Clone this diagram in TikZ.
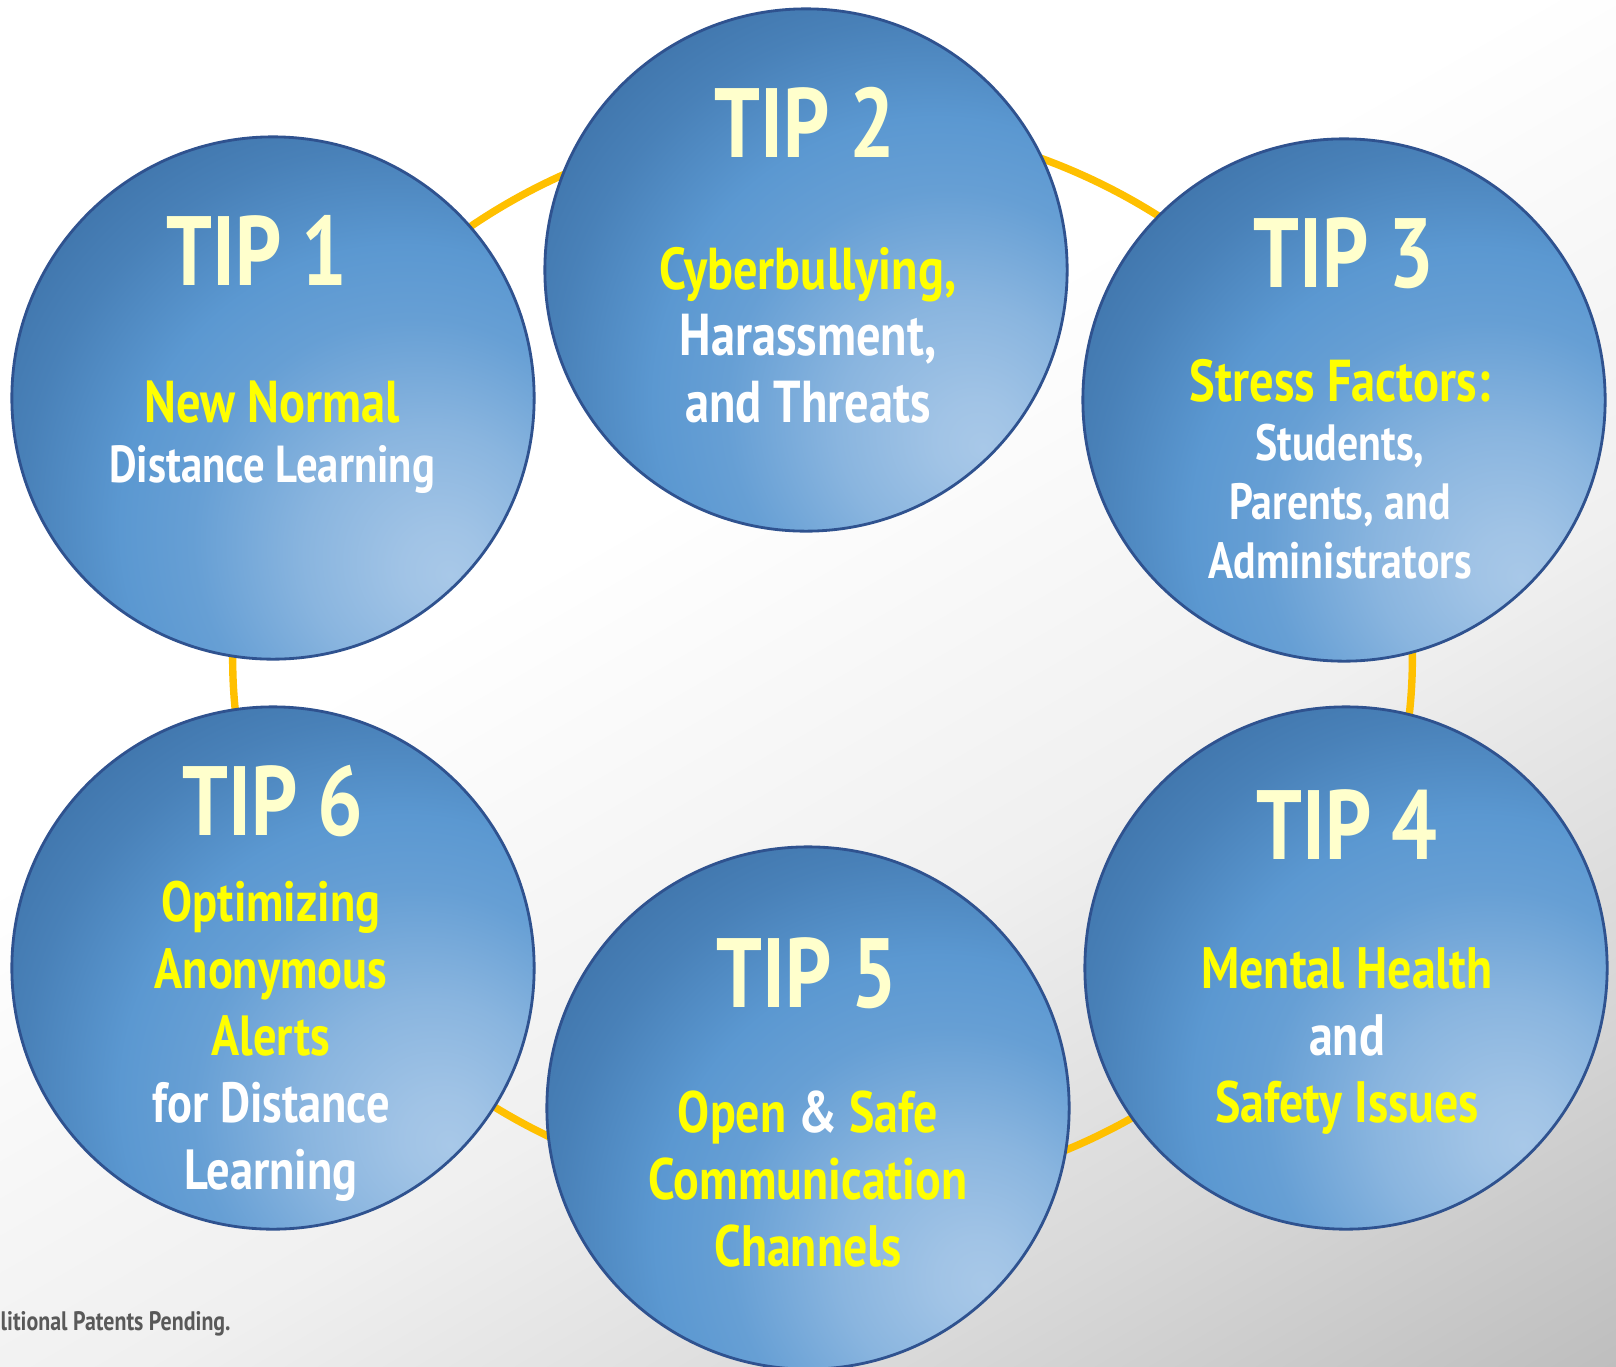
\documentclass[tikz,border=0pt]{standalone}
\usepackage{fontspec}
\setmainfont{PT Sans}[FakeStretch=0.82]

\definecolor{tipdark}{HTML}{3A6EA4}
\definecolor{tipmid}{HTML}{5B98D1}
\definecolor{tiplight}{HTML}{A8C8E8}
\definecolor{tipedge}{HTML}{2F528F}
\definecolor{tiptitle}{HTML}{FFFFCC}
\definecolor{tipyellow}{HTML}{FFFF00}
\definecolor{ringgold}{HTML}{FFC000}
\definecolor{footgrey}{HTML}{595959}

% glow sits low on the right of every disc
\pgfdeclareradialshading{tipglow}{\pgfpoint{17bp}{-17bp}}{%
  color(0bp)=(tiplight); color(4bp)=(tiplight!90!tipmid); color(12bp)=(tiplight!60!tipmid);
  color(21bp)=(tipmid!85!tiplight); color(27bp)=(tipmid); color(35bp)=(tipmid!45!tipdark);
  color(44bp)=(tipdark); color(100bp)=(tipdark)}
\pgfdeclarehorizontalshading{pagefade}{100bp}{%
  color(0bp)=(white); color(42bp)=(white); color(59bp)=(black!6);
  color(72bp)=(black!15); color(85bp)=(black!26); color(100bp)=(black!30)}

\begin{document}
\begin{tikzpicture}[
  x=0.01cm, y=-0.01cm,
  tip/.style={circle, shade, shading=tipglow, draw=tipedge, line width=0.8pt, minimum size=5.22cm, inner sep=0pt},
  head/.style={font=\fontsize{28}{30}\selectfont\bfseries, text=tiptitle, anchor=base},
  body/.style={font=\fontsize{16.6}{19}\selectfont\bfseries, text=white, align=center, anchor=base},
  ring/.style={draw=ringgold, line width=2.1pt},
  foot/.style={font=\fontsize{7.6}{9}\selectfont\bfseries, text=footgrey, anchor=base west, inner sep=0pt},
]
\useasboundingbox (0,0) rectangle (1616,1366);
\path[shading=pagefade, shading angle=-60] (0,0) rectangle (1616,1366);

% ring behind the six tips
\coordinate (hub) at (822.5,659);
\draw[ring] (hub) ellipse [x radius=5.895cm, y radius=5.386cm];

\node[tip] (t1) at (273,398)  {};
\node[tip] (t2) at (806,270)  {};
\node[tip] (t3) at (1344,400) {};
\node[tip] (t4) at (1346,968) {};
\node[tip] (t5) at (808,1108) {};
\node[tip] (t6) at (273,968)  {};

\node[head] (h1) at (257,285)   {TIP 1};
\node[head] (h2) at (805,157)   {TIP 2};
\node[head] (h3) at (1344,287)  {TIP 3};
\node[head] (h4) at (1347,859)  {TIP 4};
\node[head] (h5) at (807,1007)  {TIP 5};
\node[head] (h6) at (273,835)   {TIP 6};

\node[body, font=\fontsize{14.8}{17.1}\selectfont\bfseries] (b1) at (272,482.5)
  {{\fontsize{16.8}{17.1}\selectfont\color{tipyellow}New Normal}\\Distance Learning};
\node[body, font=\fontsize{16.8}{18.8}\selectfont\bfseries] (b2) at (808,422)
  {{\color{tipyellow}Cyberbullying,}\\Harassment,\\and Threats};
\node[body, font=\fontsize{14.5}{16.8}\selectfont\bfseries] (b3) at (1340,578.5)
  {{\fontsize{16.8}{16.8}\selectfont\color{tipyellow}Stress Factors:}\\Students,\\Parents, and\\Administrators};
\node[body] (b4) at (1347,1122.5)
  {{\color{tipyellow}Mental Health}\\and\\{\color{tipyellow}Safety Issues}};
\node[body] (b5) at (808,1266)
  {{\color{tipyellow}Open} \& {\color{tipyellow}Safe}\\{\color{tipyellow}Communication}\\{\color{tipyellow}Channels}};
\node[body, font=\fontsize{16.1}{19}\selectfont\bfseries] (b6) at (271,1189)
  {{\color{tipyellow}Optimizing}\\{\color{tipyellow}Anonymous}\\{\color{tipyellow}Alerts}\\for Distance\\Learning};

\node[foot] (pat) at (0,1330) {litional Patents Pending.};
\end{tikzpicture}
\end{document}
